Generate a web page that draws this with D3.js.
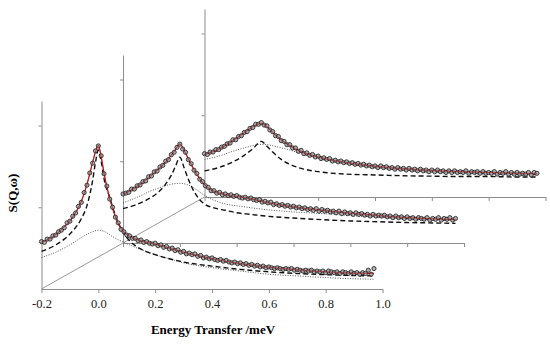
<!DOCTYPE html>
<html>
<head>
<meta charset="utf-8">
<script src="https://cdn.jsdelivr.net/npm/d3@7"></script>
<style>
  body { margin: 0; background: #fff; }
  text { font-family: "Liberation Serif", "Times New Roman", serif; }
</style>
</head>
<body>
<div id="chart-area"></div>
<script>
// quasielastic spectra, three Q values stacked in depth (front -> back)

var xTicks = [-0.2, 0.0, 0.2, 0.4, 0.6, 0.8, 1.0];
var xTickLabels = ["-0.2", "0.0", "0.2", "0.4", "0.6", "0.8", "1.0"];
var yTicks = [1, 2];

// measured points, channels 0.01 meV apart from -0.20 to 0.97
var obs1 = [0.58,0.57,0.61,0.61,0.65,0.66,0.70,0.72,0.75,0.81,
  0.83,0.89,0.93,1.01,1.06,1.18,1.27,1.42,1.54,1.69,
  1.75,1.63,1.41,1.26,1.10,1.00,0.88,0.81,0.73,0.70,
  0.66,0.65,0.62,0.62,0.59,0.60,0.57,0.58,0.56,0.55,
  0.56,0.53,0.54,0.51,0.52,0.49,0.50,0.47,0.48,0.45,
  0.46,0.43,0.44,0.42,0.43,0.40,0.41,0.38,0.39,0.37,
  0.38,0.36,0.35,0.36,0.34,0.35,0.33,0.32,0.33,0.31,
  0.32,0.30,0.31,0.29,0.30,0.28,0.29,0.27,0.28,0.26,
  0.27,0.26,0.25,0.26,0.25,0.24,0.25,0.24,0.25,0.23,
  0.24,0.23,0.22,0.23,0.22,0.23,0.21,0.22,0.21,0.22,
  0.20,0.22,0.21,0.20,0.21,0.19,0.21,0.20,0.19,0.21,
  0.19,0.20,0.18,0.20,0.19,0.23,0.18,0.25];
var obs2 = [0.60,0.61,0.62,0.66,0.66,0.70,0.71,0.75,0.76,0.81,
  0.82,0.87,0.88,0.93,0.95,1.00,1.02,1.08,1.11,1.17,
  1.21,1.15,1.11,1.02,0.97,0.89,0.85,0.78,0.75,0.70,
  0.68,0.64,0.64,0.61,0.62,0.59,0.60,0.58,0.59,0.57,
  0.58,0.56,0.55,0.56,0.54,0.55,0.53,0.52,0.53,0.50,
  0.51,0.49,0.50,0.47,0.48,0.46,0.47,0.45,0.46,0.44,
  0.45,0.43,0.44,0.42,0.43,0.41,0.42,0.40,0.42,0.39,
  0.41,0.39,0.40,0.38,0.39,0.37,0.39,0.36,0.38,0.36,
  0.37,0.35,0.37,0.35,0.36,0.34,0.35,0.33,0.35,0.33,
  0.34,0.33,0.34,0.32,0.33,0.31,0.33,0.31,0.32,0.30,
  0.32,0.30,0.31,0.29,0.31,0.30,0.29,0.31,0.28,0.30,
  0.29,0.31,0.28,0.30,0.29,0.31,0.28,0.30];
var obs3 = [0.53,0.52,0.55,0.55,0.58,0.58,0.61,0.62,0.65,0.66,
  0.70,0.70,0.74,0.75,0.79,0.80,0.84,0.85,0.89,0.89,
  0.91,0.88,0.87,0.82,0.80,0.75,0.74,0.69,0.68,0.64,
  0.64,0.60,0.60,0.56,0.57,0.53,0.54,0.51,0.52,0.49,
  0.50,0.47,0.48,0.46,0.47,0.44,0.45,0.43,0.44,0.42,
  0.43,0.41,0.42,0.40,0.41,0.39,0.40,0.38,0.39,0.37,
  0.38,0.36,0.38,0.36,0.37,0.35,0.36,0.34,0.36,0.34,
  0.35,0.33,0.35,0.33,0.34,0.32,0.34,0.32,0.33,0.31,
  0.33,0.31,0.33,0.31,0.32,0.30,0.32,0.30,0.32,0.30,
  0.31,0.30,0.32,0.29,0.31,0.30,0.31,0.29,0.31,0.29,
  0.30,0.29,0.31,0.28,0.30,0.29,0.31,0.28,0.30,0.28,
  0.30,0.28,0.29,0.28,0.30,0.27,0.30,0.29];

// fits: [energy, intensity]
var fit1 = [[-0.20,0.57],[-0.16,0.64],[-0.12,0.76],[-0.09,0.88],[-0.06,1.07],[-0.04,1.28],[-0.02,1.55],[-0.01,1.68],
  [0,1.755],[0.01,1.62],[0.02,1.42],[0.03,1.25],[0.05,0.99],[0.07,0.80],[0.09,0.70],[0.11,0.645],[0.14,0.60],
  [0.17,0.572],[0.20,0.55],[0.25,0.50],[0.30,0.45],[0.36,0.40],[0.40,0.37],[0.50,0.31],[0.60,0.265],[0.70,0.235],
  [0.80,0.21],[0.90,0.195],[0.97,0.19]];
var narrow1 = [[-0.20,0.46],[-0.16,0.52],[-0.12,0.61],[-0.09,0.71],[-0.06,0.86],[-0.04,1.02],[-0.02,1.33],[-0.01,1.55],
  [0,1.70],[0.01,1.56],[0.02,1.35],[0.04,1.12],[0.06,0.90],[0.08,0.74],[0.10,0.63],[0.13,0.53],[0.16,0.47],
  [0.20,0.42],[0.25,0.37],[0.30,0.33],[0.40,0.28],[0.50,0.24],[0.60,0.21],[0.70,0.19],[0.80,0.175],[0.90,0.165],[0.97,0.16]];
var broad1 = [[-0.20,0.385],[-0.15,0.45],[-0.10,0.54],[-0.05,0.65],[-0.02,0.70],[0,0.72],[0.02,0.705],[0.05,0.64],
  [0.09,0.57],[0.13,0.51],[0.17,0.46],[0.20,0.42],[0.25,0.37],[0.30,0.32],[0.40,0.26],[0.50,0.22],[0.60,0.18],
  [0.70,0.16],[0.80,0.14],[0.90,0.125],[0.97,0.12]];

var fit2 = [[-0.20,0.595],[-0.16,0.67],[-0.13,0.74],[-0.10,0.83],[-0.07,0.92],[-0.04,1.03],[-0.02,1.12],[0,1.21],
  [0.02,1.10],[0.04,0.96],[0.06,0.84],[0.085,0.72],[0.11,0.65],[0.14,0.61],[0.18,0.58],[0.20,0.57],[0.25,0.54],
  [0.30,0.50],[0.40,0.44],[0.50,0.40],[0.60,0.365],[0.70,0.335],[0.80,0.31],[0.90,0.295],[0.97,0.285]];
var narrow2 = [[-0.20,0.42],[-0.16,0.46],[-0.12,0.52],[-0.08,0.61],[-0.05,0.72],[-0.03,0.83],[-0.015,0.94],[0,1.05],
  [0.015,0.92],[0.03,0.78],[0.05,0.63],[0.07,0.53],[0.09,0.47],[0.12,0.43],[0.16,0.40],[0.20,0.37],[0.25,0.35],
  [0.30,0.33],[0.40,0.305],[0.50,0.285],[0.60,0.27],[0.70,0.26],[0.80,0.25],[0.90,0.245],[0.97,0.24]];
var broad2 = [[-0.20,0.49],[-0.15,0.56],[-0.10,0.64],[-0.06,0.69],[-0.03,0.72],[0,0.73],[0.03,0.71],[0.06,0.65],
  [0.09,0.575],[0.13,0.51],[0.17,0.47],[0.21,0.45],[0.30,0.41],[0.40,0.38],[0.50,0.36],[0.60,0.335],[0.70,0.315],
  [0.80,0.30],[0.90,0.285],[0.97,0.275]];

var fit3 = [[-0.20,0.52],[-0.15,0.585],[-0.10,0.69],[-0.05,0.81],[-0.02,0.88],[0,0.90],[0.02,0.86],[0.04,0.79],
  [0.07,0.70],[0.10,0.63],[0.13,0.57],[0.16,0.53],[0.20,0.49],[0.25,0.45],[0.30,0.42],[0.40,0.375],[0.50,0.345],
  [0.60,0.325],[0.70,0.31],[0.80,0.30],[0.90,0.29],[0.97,0.285]];
var narrow3 = [[-0.20,0.32],[-0.15,0.36],[-0.10,0.43],[-0.06,0.51],[-0.03,0.59],[0,0.68],[0.02,0.62],[0.04,0.55],
  [0.07,0.46],[0.10,0.40],[0.14,0.35],[0.20,0.31],[0.30,0.28],[0.40,0.27],[0.50,0.26],[0.60,0.255],[0.70,0.25],
  [0.80,0.25],[0.90,0.245],[0.97,0.245]];
var broad3 = [[-0.20,0.46],[-0.15,0.50],[-0.10,0.56],[-0.05,0.61],[-0.02,0.635],[0,0.645],[0.03,0.635],[0.06,0.61],
  [0.09,0.585],[0.13,0.54],[0.17,0.50],[0.21,0.465],[0.25,0.44],[0.30,0.41],[0.40,0.365],[0.50,0.33],[0.60,0.31],
  [0.70,0.295],[0.80,0.28],[0.90,0.27],[0.97,0.265]];

var panels = [
  {obs: obs1, fit: fit1, narrow: narrow1, broad: broad1},
  {obs: obs2, fit: fit2, narrow: narrow2, broad: broad2},
  {obs: obs3, fit: fit3, narrow: narrow3, broad: broad3}
];

var width = 550, height = 347;
var svg = d3.select("#chart-area").append("svg").attr("width", width).attr("height", height);

// Scales
var x = d3.scaleLinear().domain([-0.2, 1.0]).range([0, 341]);
var y = d3.scaleLinear().domain([0, 2.3]).range([0, -188]);
var depthX = d3.scaleLinear().domain([0, 2]).range([41.5, 204.5]);
var depthY = d3.scaleLinear().domain([0, 2]).range([289, 197]);

var channels = d3.range(0, 118).map(function(i) { return Math.round((-0.2 + i * 0.01) * 100) / 100; });

var axisColor = "#8c8c8c";

// depth line through the panel origins
svg.append("line")
  .attr("x1", depthX(0)).attr("y1", depthY(0))
  .attr("x2", depthX(2)).attr("y2", depthY(2))
  .attr("stroke", axisColor).attr("stroke-width", 0.9);

var line = d3.line()
  .x(function(d) { return x(d[0]); })
  .y(function(d) { return y(d[1]); })
  .curve(d3.curveMonotoneX);

// back panel first
[2, 1, 0].forEach(function(i) {
  var p = panels[i];
  var g = svg.append("g").attr("transform", "translate(" + depthX(i) + "," + depthY(i) + ")");

  var xAxisCall = d3.axisBottom(x).tickValues(xTicks).tickSize(4).tickSizeOuter(0)
    .tickFormat(function(d, k) { return i === 0 ? xTickLabels[k] : ""; });
  var xg = g.append("g").attr("class", "x axis").call(xAxisCall);
  xg.select(".domain").attr("stroke", axisColor);
  xg.selectAll(".tick line").attr("stroke", axisColor);
  xg.selectAll("text").attr("font-size", "12.5px").attr("fill", "#222").attr("dy", "0.95em")
    .style("font-family", "'Liberation Serif', serif");

  var yAxisCall = d3.axisLeft(y).tickValues(yTicks).tickSize(3).tickSizeOuter(0).tickFormat("");
  var yg = g.append("g").attr("class", "y axis").call(yAxisCall);
  yg.select(".domain").attr("stroke", axisColor);
  yg.selectAll(".tick line").attr("stroke", axisColor);

  // components
  g.append("path").datum(p.broad).attr("d", line).attr("fill", "none")
    .attr("stroke", "#555").attr("stroke-width", 1).attr("stroke-dasharray", "1,1.5");
  g.append("path").datum(p.narrow).attr("d", line).attr("fill", "none")
    .attr("stroke", "#111").attr("stroke-width", 1.4).attr("stroke-dasharray", "5,3");

  // total fit under the data, points hide most of it
  g.append("path").datum(p.fit).attr("d", line).attr("fill", "none")
    .attr("stroke", "#b3161c").attr("stroke-width", 1.2);

  // data
  g.selectAll("circle.obs").data(p.obs).enter().append("circle").attr("class", "obs")
    .attr("cx", function(d, k) { return x(channels[k]); })
    .attr("cy", function(d) { return y(d); })
    .attr("r", 2.1)
    .attr("fill", "#9a9a9a").attr("fill-opacity", 0.8).attr("stroke", "#1c1c1c").attr("stroke-width", 0.8);

  // thin fit trace on top so the red shows at the peak
  g.append("path").datum(p.fit).attr("d", line).attr("fill", "none")
    .attr("stroke", "#b3161c").attr("stroke-width", 0.7).attr("stroke-opacity", 0.7);
});

// Labels
svg.append("text").attr("x", 213).attr("y", 334).attr("text-anchor", "middle")
  .attr("font-size", "13px").attr("font-weight", "bold").text("Energy Transfer /meV");

svg.append("text").attr("transform", "translate(17,193) rotate(-90)").attr("text-anchor", "middle")
  .attr("font-size", "13px").attr("font-weight", "bold").text("S(Q,ω)");
</script>
</body>
</html>
